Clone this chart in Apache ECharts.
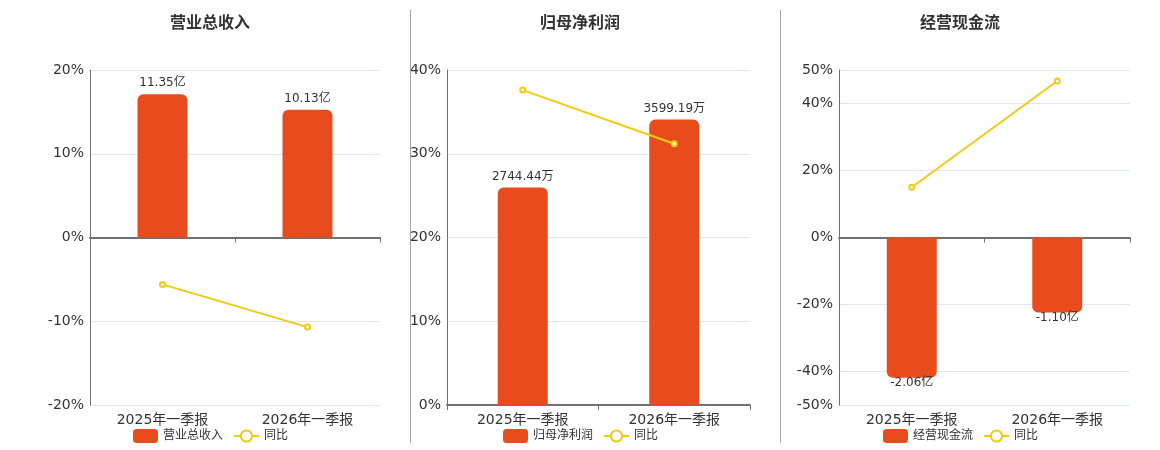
<!DOCTYPE html>
<html lang="zh-CN">
<head>
    <meta charset="utf-8">
    <title>季报财务指标</title>
    <script src="https://cdn.jsdelivr.net/npm/echarts@6.0.0/dist/echarts.min.js"></script>
    <style>
        * {
            box-sizing: border-box;
        }

        body {
            margin: 0;
            background: #fff;
        }

        .wrap {
            position: relative;
            width: 1160px;
            height: 450px;
        }

        .panel {
            position: absolute;
            top: 0;
            height: 450px;
        }

        .sep {
            position: absolute;
            top: 10px;
            width: 1px;
            height: 433px;
            background: #a8a8a8;
        }
    </style>
</head>
<body>
<div class="wrap">
    <div class="panel" id="c1" style="left: 0; width: 400px;"></div>
    <div class="panel" id="c2" style="left: 400px; width: 381px;"></div>
    <div class="panel" id="c3" style="left: 781px; width: 379px;"></div>
    <div class="sep" style="left: 410px;"></div>
    <div class="sep" style="left: 780px;"></div>
</div>
<script>
    // 数据
    const periods = ['2025年一季报', '2026年一季报'];

    const revenue = [11.35, 10.13];      // 亿
    const revenueYoy = [-5.6, -10.7];    // %

    const netProfit = [2744.44, 3599.19]; // 万
    const netProfitYoy = [37.6, 31.2];    // %

    const cashFlow = [-2.06, -1.10];     // 亿
    const cashFlowYoy = [15.0, 46.7];    // %

    const BAR_COLOR = '#e84c1d';
    const LINE_COLOR = '#f4c913';
    const FONT = '"DejaVu Sans", "Noto Sans CJK SC", sans-serif';

    function buildOption(cfg) {
        return {
            textStyle: { fontFamily: FONT },
            title: {
                text: cfg.title,
                left: cfg.titleLeft,
                top: 16,
                padding: 0,
                textStyle: { fontSize: 16, fontWeight: 'bold', color: '#333', fontFamily: FONT }
            },
            legend: {
                left: cfg.legendLeft,
                top: 429,
                padding: 0,
                itemWidth: 25,
                itemHeight: 14,
                itemGap: 10,
                textStyle: { fontSize: 12, color: '#333', fontFamily: FONT },
                data: [cfg.name, '同比']
            },
            grid: {
                left: cfg.gridLeft,
                right: cfg.gridRight,
                top: 70,
                bottom: 45,
                outerBoundsMode: 'none'
            },
            xAxis: [{
                type: 'category',
                data: periods,
                position: 'bottom',
                axisLine: { show: false, onZero: false },
                axisTick: { show: false },
                axisLabel: { fontSize: 14, color: '#333', margin: 8 }
            }, {
                type: 'category',
                data: periods,
                position: 'top',
                axisLine: { show: true, onZero: true, lineStyle: { color: '#6e7079', width: 2 } },
                axisTick: { show: true, inside: true, length: 5, lineStyle: { color: '#6e7079' } },
                axisLabel: { show: false }
            }],
            yAxis: [{
                type: 'value',
                min: cfg.yMin,
                max: cfg.yMax,
                interval: cfg.yInterval,
                splitNumber: 5,
                axisLine: { show: true, lineStyle: { color: '#6e7079' } },
                axisTick: { show: false },
                axisLabel: { fontSize: 14, color: '#333', formatter: '{value}%', margin: 6 },
                splitLine: { lineStyle: { color: '#e0e6f1' } }
            }, {
                type: 'value',
                show: false,
                min: cfg.barMin,
                max: cfg.barMax,
                splitLine: { show: false }
            }],
            series: [{
                name: cfg.name,
                type: 'bar',
                xAxisIndex: 0,
                yAxisIndex: 1,
                barWidth: 50,
                itemStyle: { color: BAR_COLOR },
                data: cfg.bars.map(function (v) {
                    return {
                        value: v,
                        itemStyle: { borderRadius: v < 0 ? [0, 0, 6, 6] : [6, 6, 0, 0] },
                        label: v < 0 ? { position: 'bottom', distance: -1 } : { position: 'top', distance: 5 }
                    };
                }),
                label: {
                    show: true,
                    fontSize: 12,
                    color: '#333',
                    formatter: function (p) {
                        return p.value.toFixed(2) + cfg.unit;
                    }
                }
            }, {
                name: '同比',
                type: 'line',
                xAxisIndex: 0,
                yAxisIndex: 0,
                data: cfg.yoy,
                symbol: 'emptyCircle',
                symbolSize: 5,
                itemStyle: { color: LINE_COLOR },
                lineStyle: { color: LINE_COLOR, width: 2 }
            }]
        };
    }

    const charts = [
        {
            el: 'c1', title: '营业总收入', name: '营业总收入', unit: '亿',
            titleLeft: 170, legendLeft: 133, gridLeft: 90, gridRight: 20,
            yMin: -20, yMax: 20, yInterval: 10, barMin: -13.27, barMax: 13.27,
            bars: revenue, yoy: revenueYoy
        },
        {
            el: 'c2', title: '归母净利润', name: '归母净利润', unit: '万',
            titleLeft: 140, legendLeft: 103, gridLeft: 47, gridRight: 31,
            yMin: 0, yMax: 40, yInterval: 10, barMin: 0, barMax: 4225,
            bars: netProfit, yoy: netProfitYoy
        },
        {
            el: 'c3', title: '经营现金流', name: '经营现金流', unit: '亿',
            titleLeft: 139, legendLeft: 102, gridLeft: 58, gridRight: 30,
            yMin: -50, yMax: 50, yInterval: null, barMin: -2.46, barMax: 2.46,
            bars: cashFlow, yoy: cashFlowYoy
        }
    ];

    charts.forEach(function (cfg) {
        const chart = echarts.init(document.getElementById(cfg.el));
        const option = buildOption(cfg);
        if (cfg.yInterval == null) {
            delete option.yAxis[0].interval;
        }
        chart.setOption(option);
    });
</script>
</body>
</html>
